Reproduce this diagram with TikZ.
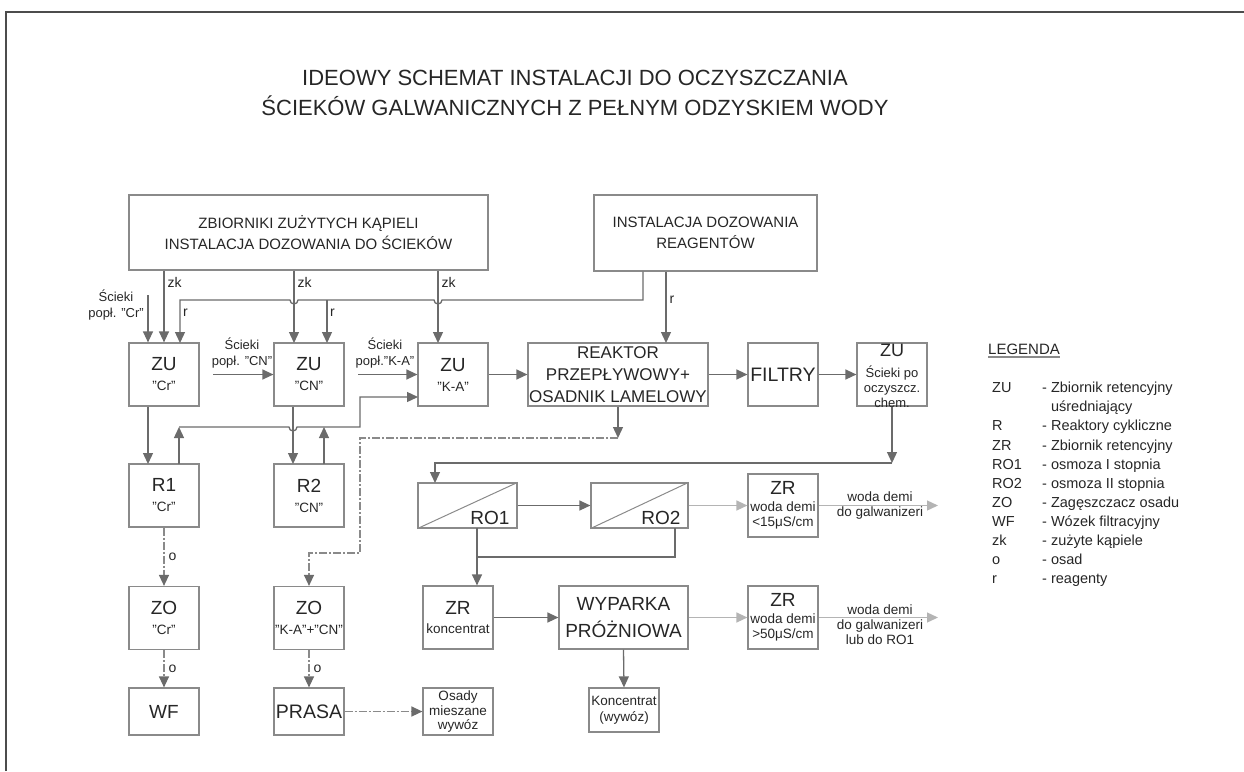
\documentclass[tikz,border=0pt]{standalone}
\usepackage{fontspec}
\setmainfont{Liberation Sans}
\usetikzlibrary{arrows.meta}
\definecolor{liniaszara}{HTML}{6B6B6B}
\definecolor{ramkaszara}{HTML}{8A8A8A}
\definecolor{jasnaszara}{HTML}{B4B4B4}
\definecolor{tekstszary}{HTML}{262626}
\newcommand{\fs}[2]{\fontsize{#1}{#2}\selectfont}

\begin{document}
\begin{tikzpicture}[x=1pt, y=-1pt,
  blok/.style={draw=ramkaszara, line width=1.2pt, inner sep=0pt, align=center, text=tekstszary, minimum width=70pt, minimum height=63pt, font=\fs{13.5}{20}},
  zbiornik/.style={blok, font=\fs{13.5}{15}},
  napis/.style={inner sep=0pt, align=center, text=tekstszary, font=\fs{13}{16}},
  etykieta/.style={napis, font=\fs{14}{15}, anchor=west},
  rura/.style={draw=liniaszara, line width=1.3pt},
  strzalka/.style={rura, -{Triangle[length=11pt, width=10pt]}},
  jasna/.style={draw=jasnaszara, line width=1.3pt, -{Triangle[length=11pt, width=10pt]}},
  osad/.style={draw=ramkaszara, line width=1.3pt, dash pattern=on 8pt off 2pt on 2pt off 2pt, -{Triangle[length=11pt, width=10pt, color=liniaszara]}},
  legenda/.style={anchor=base west, inner sep=0pt, text=tekstszary, font=\fs{14.5}{17}}]
\useasboundingbox (0,0) rectangle (1244,771);
\draw[black!70, line width=1.5pt] (6,771) -- (6,12) -- (1244,12);

\node[napis, font=\fs{22}{30}] (tytul) at (575,93) {IDEOWY SCHEMAT INSTALACJI DO OCZYSZCZANIA\\ŚCIEKÓW GALWANICZNYCH Z PEŁNYM ODZYSKIEM WODY};

% zrodla
\node[blok, font=\fs{15}{21.5}, minimum width=359pt, minimum height=75pt] (zbiorniki) at (308.5,232.5) {ZBIORNIKI ZUŻYTYCH KĄPIELI\\INSTALACJA DOZOWANIA DO ŚCIEKÓW};
\node[blok, font=\fs{15}{21.5}, minimum width=223pt, minimum height=76pt] (reagenty) at (705.5,233) {INSTALACJA DOZOWANIA\\REAGENTÓW};

% pierwszy rzad
\node[blok] (zucr) at (164,374.5) {{\fs{19}{20}ZU}\\"Cr"};
\node[blok] (zucn) at (309,374.5) {{\fs{19}{20}ZU}\\"CN"};
\node[blok] (zuka) at (453,374.5) {{\fs{19}{20}ZU}\\"K-A"};
\node[blok, font=\fs{17}{22}, minimum width=180pt] (reaktor) at (618,374.5) {REAKTOR\\PRZEPŁYWOWY+\\OSADNIK LAMELOWY};
\node[blok, font=\fs{19.5}{22}] (filtry) at (783,374.5) {FILTRY};
\node[blok] (zupo) at (892,374.5) {};
\node[napis, font=\fs{13}{15}, anchor=north] (zupotxt) at (892,344) {{\fs{18}{19}ZU}\\[6pt]Ścieki po\\oczyszcz.\\chem.};

\node[napis] (scr) at (116,305) {Ścieki\\popł. "Cr"};
\node[napis] (scn) at (242,353) {Ścieki\\popł. "CN"};
\node[napis] (ska) at (385,353) {Ścieki\\popł."K-A"};

% reaktory i odwrocona osmoza
\node[blok] (r1) at (164,495.5) {{\fs{19}{20}R1}\\"Cr"};
\node[blok] (r2) at (309,495.5) {{\fs{19}{20}R2}\\"CN"};
\node[blok, minimum width=99pt, minimum height=45pt] (ro1) at (467.5,505.5) {};
\node[blok, minimum width=97pt, minimum height=45pt] (ro2) at (639.5,505.5) {};
\draw[draw=ramkaszara, line width=1pt] (ro1.south west) -- (ro1.north east);
\draw[draw=ramkaszara, line width=1pt] (ro2.south west) -- (ro2.north east);
\node[napis, font=\fs{19}{20}, anchor=base east] (ro1txt) at ([xshift=-8pt, yshift=4pt]ro1.south east) {RO1};
\node[napis, font=\fs{19}{20}, anchor=base east] (ro2txt) at ([xshift=-8pt, yshift=4pt]ro2.south east) {RO2};
\node[zbiornik] (zr1) at (783,505.5) {{\fs{19}{20}ZR}\\[2pt]woda demi\\<15μS/cm};

% zageszczacze i wyparka
\node[blok] (zocr) at (164,618) {{\fs{19}{20}ZO}\\"Cr"};
\node[blok] (zoka) at (309,618) {{\fs{19}{20}ZO}\\"K-A"+"CN"};
\node[zbiornik] (zrk) at (458,617.5) {{\fs{19}{20}ZR}\\[4pt]koncentrat};
\node[blok, font=\fs{19}{27}, minimum width=129pt] (wyparka) at (623.5,617.5) {WYPARKA\\PRÓŻNIOWA};
\node[zbiornik] (zr2) at (783,617.5) {{\fs{19}{20}ZR}\\[2pt]woda demi\\>50μS/cm};

% ostatni rzad
\node[blok, font=\fs{19}{20}, minimum height=47pt] (wf) at (164,711.5) {WF};
\node[blok, font=\fs{19.5}{20}, minimum height=47pt] (prasa) at (309,711.5) {PRASA};
\node[blok, font=\fs{13.5}{14.5}, minimum height=47pt] (osady) at (458,711.5) {Osady\\mieszane\\wywóz};
\node[blok, font=\fs{13.5}{15.5}, minimum height=44pt] (koncentrat) at (624,710) {Koncentrat\\(wywóz)};

% punkty pomocnicze
\coordinate (zkcn) at (294,343);
\coordinate (zkka) at (438,343);
\coordinate (rwyj) at (643,300);
\coordinate (rcr) at (180,343);
\coordinate (rcn) at (327,343);
\coordinate (rreak) at (666,343);
\coordinate (scrpocz) at (148,295);
\coordinate (scnpocz) at (213,374.5);
\coordinate (skapocz) at (358,374.5);
\coordinate (r1wej) at (148,464);
\coordinate (r2wej) at (293,464);
\coordinate (r1wyj) at (179,464);
\coordinate (r2wyj) at (324,464);
\coordinate (r1gora) at (179,427);
\coordinate (r2gora) at (324,427);
\coordinate (kawej) at (418,397);
\coordinate (osadrog) at (618,438);
\coordinate (osadzakret) at (360,553);
\coordinate (porog) at (892,463);
\coordinate (ro1wej) at (435,483);
\coordinate (ro1wyj) at (477,528);
\coordinate (ro2wyj) at (675,528);
\coordinate (rolacz) at (477,557);
\coordinate (wyj1) at (938,505.5);
\coordinate (wyj2) at (938,617.5);

% zuzyte kapiele i reagenty
\draw[strzalka] (zbiorniki.south -| zucr) -- node[etykieta, pos=0.16, xshift=3pt] (zk1) {zk} (zucr.north);
\draw[strzalka] (zbiorniki.south -| zkcn) -- node[etykieta, pos=0.16, xshift=3pt] (zk2) {zk} (zkcn);
\draw[strzalka] (zbiorniki.south -| zkka) -- node[etykieta, pos=0.16, xshift=3pt] (zk3) {zk} (zkka);
\draw[strzalka] (reagenty.south -| rwyj) -- (rwyj) -- (442,300) arc (0:180:4) -- (298,300) arc (0:180:4) -- (rcr |- rwyj) -- (rcr);
\draw[strzalka] (rcn |- rwyj) -- (rcn);
\node[etykieta] (rlbl1) at (183,313) {r};
\node[etykieta] (rlbl2) at (330,313) {r};
\draw[strzalka] (reagenty.south -| rreak) -- node[etykieta, pos=0.4, xshift=3pt] (rlbl3) {r} (rreak);

% scieki
\draw[strzalka] (scrpocz) -- (scrpocz |- zucr.north);
\draw[strzalka] (scnpocz) -- (zucn.west);
\draw[strzalka] (skapocz) -- (zuka.west);

% przeplyw glowny
\draw[strzalka] (zuka.east) -- (reaktor.west);
\draw[strzalka] (reaktor.east) -- (filtry.west);
\draw[strzalka] (filtry.east) -- (zupo.west);
\draw[strzalka] (zucr.south -| r1wej) -- (r1wej);
\draw[strzalka] (zucn.south -| r2wej) -- (r2wej);
\draw[strzalka] (r1wyj) -- (r1gora);
\draw[strzalka] (r2wyj) -- (r2gora);
\draw[strzalka] (r1gora) -- (289,427) arc (180:0:4) -- (360,427) |- (kawej);

% osad
\draw[strzalka] (reaktor.south) -- (osadrog);
\draw[osad] (osadrog) -| (osadzakret) -| (zoka.north);
\draw[osad] (r1.south) -- node[etykieta, xshift=4pt] (o1) {o} (zocr.north);
\draw[osad] (zocr.south) -- node[etykieta, xshift=4pt] (o2) {o} (wf.north);
\draw[osad] (zoka.south) -- node[etykieta, xshift=4pt] (o3) {o} (prasa.north);
\draw[osad] (prasa.east) -- (osady.west);

% odwrocona osmoza
\draw[strzalka] (zupo.south) -- (porog);
\draw[strzalka] (porog) -| (ro1wej);
\draw[strzalka] (ro1.east) -- (ro2.west);
\draw[jasna] (ro2.east) -- (zr1.west);
\draw[strzalka] (ro1wyj) -- (ro1wyj |- zrk.north);
\draw[rura] (ro2wyj) |- (rolacz);
\draw[strzalka] (zrk.east) -- (wyparka.west);
\draw[jasna] (wyparka.east) -- (zr2.west);
\draw[strzalka] (wyparka.south) -- (koncentrat.north);
\draw[jasna] (zr1.east) -- (wyj1);
\draw[jasna] (zr2.east) -- (wyj2);
\node[napis, font=\fs{13.5}{15}] (woda1) at (880,505.5) {woda demi\\do galwanizeri};
\node[napis, font=\fs{13.5}{15}] (woda2) at (880,625) {woda demi\\do galwanizeri\\lub do RO1};

% legenda
\node[legenda, anchor=west, font=\fs{15}{17}] (legtytul) at (988,349) {LEGENDA};
\draw[ramkaszara, line width=1.2pt] ([yshift=-2.5pt]legtytul.south west) -- ([yshift=-2.5pt]legtytul.south east);
\foreach \skrot/\opis [count=\i from 0] in {ZU/- Zbiornik retencyjny, /\phantom{- }uśredniający, R/- Reaktory cykliczne, ZR/- Zbiornik retencyjny, RO1/- osmoza I stopnia, RO2/- osmoza II stopnia, ZO/- Zagęszczacz osadu, WF/- Wózek filtracyjny, zk/- zużyte kąpiele, o/- osad, r/- reagenty}
{
  \node[legenda] (skrot\i) at (992,392.7+19.1*\i) {\skrot};
  \node[legenda] (opis\i) at (1042,392.7+19.1*\i) {\opis};
}
\end{tikzpicture}
\end{document}
